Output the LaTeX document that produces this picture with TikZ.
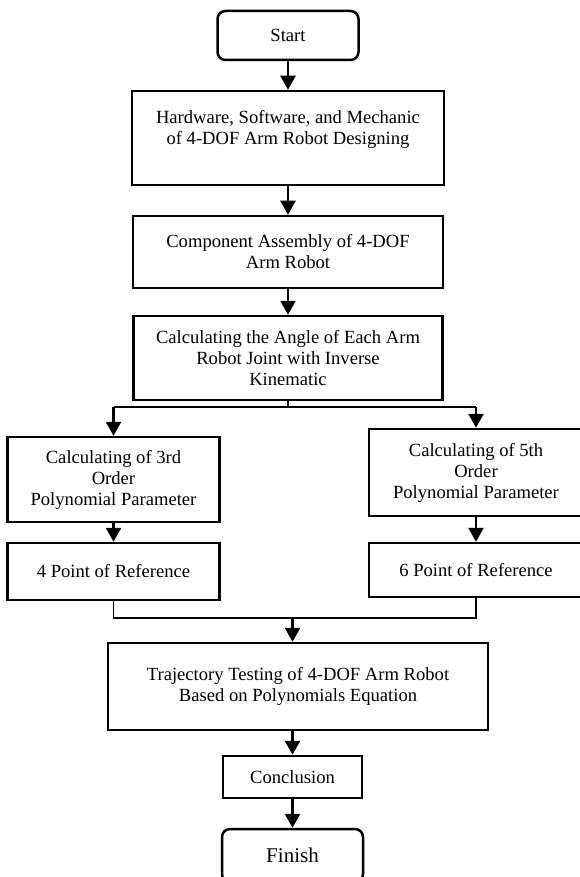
\documentclass[tikz,border=0pt]{standalone}
\usepackage{fontspec}
\setmainfont{Liberation Serif}
\usetikzlibrary{arrows.meta,positioning}

\begin{document}
\begin{tikzpicture}[x=1pt,y=-1pt,
box/.style={draw,line width=2.5pt,align=center,inner sep=0pt,font=\fontsize{18.6}{21}\selectfont},
term/.style={box,rounded corners=8pt},
flow/.style={line width=2.5pt,-{Triangle[length=14pt,width=15pt]}},
thin/.style={line width=1.2pt}]
\useasboundingbox (0,0) rectangle (580,877);
\node[term,minimum width=141pt,minimum height=49pt] (start) at (288,35.5) {Start};
\node[box,minimum width=312pt,minimum height=94pt] (design) at (288,138) {Hardware, Software, and Mechanic\\of 4-DOF Arm Robot Designing\\\mbox{}};
\node[box,minimum width=310pt,minimum height=72pt] (assembly) at (288,252) {Component Assembly of 4-DOF\\Arm Robot};
\node[box,minimum width=309pt,minimum height=84pt] (kinematic) at (288,358) {Calculating the Angle of Each Arm\\Robot Joint with Inverse\\Kinematic};
\node[box,minimum width=212pt,minimum height=85pt] (third) at (113.5,479.5) {Calculating of 3rd\\Order\\Polynomial Parameter};
\node[box,minimum width=212pt,minimum height=57pt] (fourpt) at (113.5,571.5) {4 Point of Reference};
\node[box,minimum width=214pt,minimum height=87pt] (fifth) at (476,472.5) {Calculating of 5th\\Order\\Polynomial Parameter};
\node[box,minimum width=214pt,minimum height=54pt] (sixpt) at (476,570) {6 Point of Reference};
\node[box,minimum width=380pt,minimum height=87pt] (trajectory) at (298,686.5) {Trajectory Testing of 4-DOF Arm Robot\\Based on Polynomials Equation};
\node[box,minimum width=139pt,minimum height=42pt] (conclusion) at (292.5,777) {Conclusion};
\node[term,minimum width=141pt,minimum height=53pt,font=\fontsize{21}{24}\selectfont] (finish) at (292.5,855.5) {Finish};
\coordinate (split) at (288,407);
\coordinate (merge) at (292.5,618);
\draw[flow] (start) -- (design);
\draw[flow] (design) -- (assembly);
\draw[flow] (assembly) -- (kinematic);
\draw[thin] (kinematic) -- (split) (third |- split) -- (fifth |- split);
\draw[flow] (third |- split) -- (third);
\draw[flow] (fifth |- split) -- (fifth);
\draw[flow] (third) -- (fourpt);
\draw[flow] (fifth) -- (sixpt);
\draw[thin] (fourpt) |- (merge) -| (sixpt);
\draw[flow] (merge) -- (merge |- trajectory.north);
\draw[flow] (conclusion |- trajectory.south) -- (conclusion);
\draw[flow] (conclusion) -- (finish);
\end{tikzpicture}
\end{document}
